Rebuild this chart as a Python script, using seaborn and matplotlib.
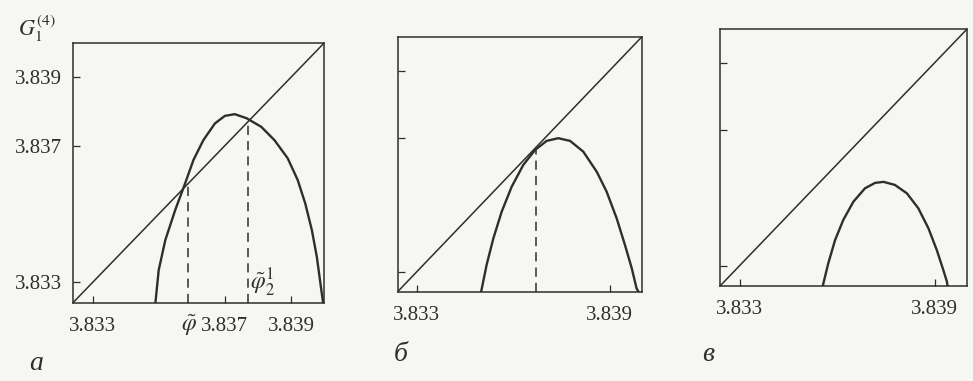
import matplotlib
matplotlib.use("Agg")
import matplotlib.pyplot as plt
import seaborn as sns

sns.set_theme(style="white")
plt.rcParams["font.family"] = ["Liberation Serif", "DejaVu Serif"]
plt.rcParams["mathtext.fontset"] = "stix"

# data
diag = [3.8324, 3.8400]

a_x = [3.8349, 3.8350, 3.8352, 3.8355, 3.8358, 3.83605, 3.83635, 3.8367, 3.8370,
       3.8373, 3.83766, 3.8381, 3.8385, 3.8389, 3.8392, 3.83943, 3.83963, 3.83978,
       3.83993, 3.83997]
a_y = [3.8324, 3.83336, 3.83424, 3.83512, 3.8359, 3.83658, 3.83716, 3.83765, 3.83787,
       3.83792, 3.8378, 3.83755, 3.83716, 3.83663, 3.8360, 3.83531, 3.83453, 3.83375,
       3.83268, 3.8324]
a_dash = [3.8359, 3.8377]

b_x = [3.8350, 3.83517, 3.83538, 3.83564, 3.83595, 3.83631, 3.83668, 3.83704, 3.8374,
       3.83777, 3.83818, 3.8386, 3.83891, 3.83922, 3.83948, 3.83969, 3.83984, 3.8399]
b_y = [3.8324, 3.8332, 3.83399, 3.83479, 3.83553, 3.83618, 3.83663, 3.8369, 3.83698,
       3.8369, 3.83658, 3.83598, 3.83538, 3.83459, 3.83379, 3.8331, 3.8325, 3.8324]
b_dash = [3.8367]

c_x = [3.83556, 3.83573, 3.83594, 3.83619, 3.8365, 3.83686, 3.83717, 3.83743, 3.83778,
       3.83815, 3.8385, 3.83881, 3.83907, 3.83927, 3.83938, 3.8394]
c_y = [3.8324, 3.83307, 3.83376, 3.83435, 3.83489, 3.83529, 3.83545, 3.83548, 3.83539,
       3.83514, 3.8347, 3.83411, 3.83346, 3.83287, 3.83253, 3.8324]

y_ticks = [3.833, 3.837, 3.839]
a_xticks = [3.833, 3.837, 3.839]
bc_xticks = [3.833, 3.839]

ink = "#2e2e2e"
paper = "#f6f6f3"

fig = plt.figure(figsize=(9.73, 3.81), dpi=100, facecolor=paper)
boxes = [[0.0747, 0.2047, 0.2584, 0.6824],
         [0.4087, 0.2344, 0.2508, 0.6685],
         [0.7400, 0.2493, 0.2539, 0.6745]]
curves = [(a_x, a_y, a_dash), (b_x, b_y, b_dash), (c_x, c_y, [])]
letters = ["а", "б", "в"]
letter_pos = [(0.030, 0.045), (0.405, 0.07), (0.722, 0.07)]

for i, (box, (cx, cy, dash)) in enumerate(zip(boxes, curves)):
    ax = fig.add_axes(box, facecolor=paper)
    sns.lineplot(x=diag, y=diag, ax=ax, color=ink, linewidth=1.1)
    line = sns.lineplot(x=cx, y=cy, ax=ax, color=ink, linewidth=1.7, sort=False,
                        estimator=None).lines[-1]
    line.set_solid_joinstyle("round")
    for d in dash:
        ax.vlines(d, diag[0], d, color=ink, linewidth=1.1, linestyles=(0, (6, 4)))
    ax.set_xlim(diag)
    ax.set_ylim(diag)
    for s in ax.spines.values():
        s.set_color(ink)
        s.set_linewidth(1.1)
    ax.tick_params(bottom=True, left=True, direction="in", length=5, width=0.9,
                   color=ink, labelsize=15, labelcolor=ink)
    ax.tick_params(axis="x", pad=10)
    ax.tick_params(axis="y", pad=8)
    ax.set_yticks(y_ticks)
    if i == 0:
        ax.set_yticklabels([f"{t:.3f}" for t in y_ticks])
        ax.set_xticks(a_xticks)
        ax.set_xticklabels([f"{t:.3f}" for t in a_xticks])
        ax.text(a_dash[0], -0.035, r"$\tilde{\varphi}$", transform=ax.get_xaxis_transform(),
                ha="center", va="top", fontsize=17, color=ink)
        ax.text(a_dash[1] + 0.00005, 3.8330, r"$\tilde{\varphi}_2^1$", ha="left", va="center",
                fontsize=17, color=ink)
    else:
        ax.set_yticklabels([])
        ax.set_xticks(bc_xticks)
        ax.set_xticklabels([f"{t:.3f}" for t in bc_xticks])
    ax.set_xlabel("")
    ax.set_ylabel("")
    fig.text(letter_pos[i][0], letter_pos[i][1], letters[i], fontsize=20,
             fontstyle="italic", color=ink, va="center")

fig.text(0.018, 0.925, r"$G_1^{(4)}$", fontsize=16, color=ink, va="center")

fig.savefig("out.png", dpi=100, facecolor=paper)
